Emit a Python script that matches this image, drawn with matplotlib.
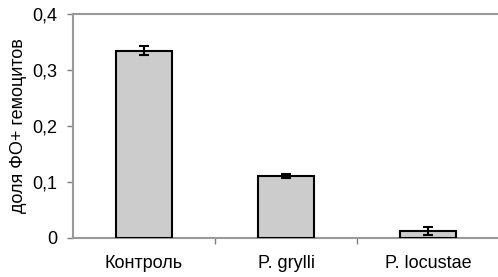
import matplotlib
matplotlib.use('Agg')
import matplotlib.pyplot as plt
from matplotlib.ticker import FuncFormatter

plt.rcParams['font.family'] = ['Liberation Sans', 'DejaVu Sans']

# data
categories = ['Контроль', 'P. grylli', 'P. locustae']
values = [0.334, 0.111, 0.0125]
errors = [0.008, 0.003, 0.007]
yticks = [0, 0.1, 0.2, 0.3, 0.4]

fig = plt.figure(figsize=(4.98, 2.77), dpi=100)
ax = fig.add_axes([73/498, 1-238/277, 426/498, 224/277])

x = range(len(categories))
ax.bar(x, values, width=0.4, color='#cccccc', edgecolor='black', linewidth=1.5,
       yerr=errors, capsize=3.6, error_kw={'elinewidth': 1.5, 'capthick': 1.5, 'ecolor': 'black'},
       zorder=3)

ax.set_xlim(-0.5, 2.5)
ax.set_ylim(0, 0.4)
ax.set_yticks(yticks)
ax.yaxis.set_major_formatter(FuncFormatter(lambda v, p: ('%g' % round(v, 1)).replace('.', ',')))
ax.set_xticks([0.5, 1.5])
ax.set_xticklabels([])
ax.set_xticks(list(x), minor=True)
ax.set_xticklabels(categories, minor=True)
ax.tick_params(axis='x', which='minor', length=0, pad=12, labelsize=13)
ax.tick_params(axis='x', which='major', length=4, color='#808080', width=1)
ax.tick_params(axis='y', length=4, color='#808080', width=1, labelsize=13, pad=7)

for s in ['right']:
    ax.spines[s].set_visible(False)
for s in ['left', 'bottom', 'top']:
    ax.spines[s].set_color('#999999')
    ax.spines[s].set_linewidth(1.5)

ax.set_ylabel('доля ФО+ гемоцитов', fontsize=13)
ax.yaxis.set_label_coords(-0.108, 0.5)

fig.savefig('out.png', dpi=100)
